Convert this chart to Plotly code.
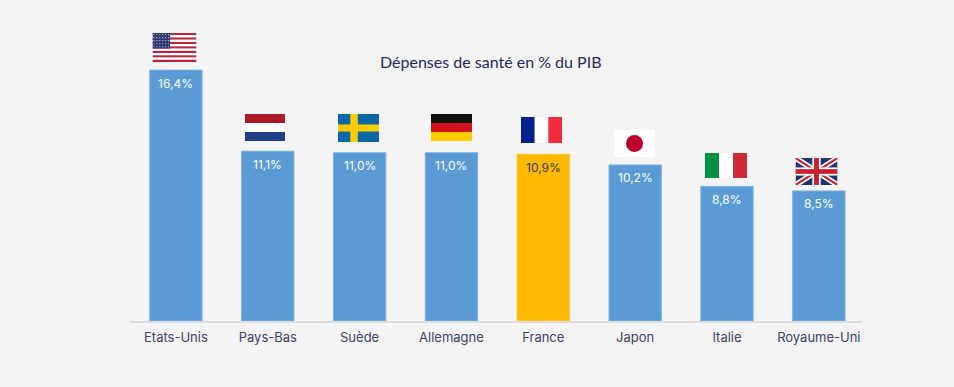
import base64
import plotly.graph_objects as go

countries = ["Etats-Unis", "Pays-Bas", "Suède", "Allemagne", "France", "Japon", "Italie", "Royaume-Uni"]
values = [16.4, 11.1, 11.0, 11.0, 10.9, 10.2, 8.8, 8.5]
labels = ["16,4%", "11,1%", "11,0%", "11,0%", "10,9%", "10,2%", "8,8%", "8,5%"]
colors = ["#5b9bd5", "#5b9bd5", "#5b9bd5", "#5b9bd5", "#ffb900", "#5b9bd5", "#5b9bd5", "#5b9bd5"]
edge_colors = ["#7fb2e3", "#7fb2e3", "#7fb2e3", "#7fb2e3", "#ffc533", "#7fb2e3", "#7fb2e3", "#7fb2e3"]
label_colors = ["#ffffff", "#ffffff", "#ffffff", "#ffffff", "#33395a", "#ffffff", "#ffffff", "#ffffff"]

W, H = 954, 387
L, R, T, B = 130, 862, 0, 321


def svg_uri(body, w, h):
    s = f'<svg xmlns="http://www.w3.org/2000/svg" width="{w}" height="{h}" viewBox="0 0 {w} {h}" preserveAspectRatio="none">{body}</svg>'
    return "data:image/svg+xml;base64," + base64.b64encode(s.encode()).decode()


def hbands(cols, w=60, h=40):
    n = len(cols)
    return "".join(f'<rect x="0" y="{i*h/n}" width="{w}" height="{h/n+0.2}" fill="{c}"/>' for i, c in enumerate(cols))


def vbands(cols, w=60, h=40):
    n = len(cols)
    return "".join(f'<rect x="{i*w/n}" y="0" width="{w/n+0.2}" height="{h}" fill="{c}"/>' for i, c in enumerate(cols))


def us():
    out = ""
    for i in range(13):
        c = "#b5263f" if i % 2 == 0 else "#ffffff"
        out += f'<rect x="0" y="{i*40/13}" width="60" height="{40/13+0.1}" fill="{c}"/>'
    out += '<rect x="0" y="0" width="24" height="21.5" fill="#2c3a70"/>'
    for r in range(5):
        for k in range(6):
            out += f'<circle cx="{2+k*4}" cy="{2.2+r*4.2}" r="0.8" fill="#d8dcea"/>'
    return out


sweden = ('<rect width="60" height="40" fill="#0a66a5"/>'
          '<rect x="18" y="0" width="11" height="40" fill="#fecc00"/>'
          '<rect x="0" y="15" width="60" height="10" fill="#fecc00"/>')
japan = '<rect width="60" height="40" fill="#ffffff"/><circle cx="30" cy="20" r="12.5" fill="#bc002d"/>'
uk = ('<rect width="60" height="40" fill="#22336e"/>'
      '<path d="M0 0L60 40M60 0L0 40" stroke="#ffffff" stroke-width="8"/>'
      '<path d="M0 0L60 40M60 0L0 40" stroke="#c8202f" stroke-width="3"/>'
      '<rect x="24" y="0" width="12" height="40" fill="#ffffff"/>'
      '<rect x="0" y="14" width="60" height="12" fill="#ffffff"/>'
      '<rect x="26.5" y="0" width="7" height="40" fill="#c8202f"/>'
      '<rect x="0" y="16.5" width="60" height="7" fill="#c8202f"/>')

flags = [
    (us(), 152.5, 33, 44, 29),
    (hbands(["#ab1a26", "#ffffff", "#1f4088"]), 245, 114, 40, 27),
    (sweden, 338, 114, 41, 28),
    (hbands(["#111111", "#d4121c", "#ffce00"]), 431, 114, 41, 27),
    (vbands(["#00218f", "#ffffff", "#f22c3c"]), 521, 117, 41, 26),
    (japan, 614, 130, 41, 27),
    (vbands(["#009246", "#ffffff", "#ce2b37"]), 705, 153, 42, 25),
    (uk, 795.5, 158, 42, 27),
]

images = []
for body, x, y, w, h in flags:
    images.append(dict(
        source=svg_uri(body, 60, 40), xref="paper", yref="paper",
        x=(x - L) / (R - L), y=(B - y) / (B - T), sizex=w / (R - L), sizey=h / (B - T),
        sizing="stretch", xanchor="left", yanchor="top", layer="above",
    ))

fig = go.Figure(go.Bar(
    x=countries, y=values, width=0.57,
    marker=dict(color=colors, line=dict(color=edge_colors, width=1)),
    hoverinfo="skip",
))
for c, v, t, col in zip(countries, values, labels, label_colors):
    fig.add_annotation(x=c, y=v, text=t, showarrow=False, yshift=-13,
                       font=dict(family="Inter, sans-serif", size=12, color=col))
fig.add_annotation(xref="paper", yref="paper", x=(490.5 - L) / (R - L), y=(B - 61) / (B - T),
                   xanchor="center", yanchor="middle", text="Dépenses de santé en % du PIB",
                   showarrow=False, font=dict(family="Lato, sans-serif", size=16, color="#232c57"))

fig.update_layout(
    width=W, height=H, autosize=False,
    margin=dict(l=L, r=W - R, t=T, b=H - B, pad=0),
    paper_bgcolor="#f4f4f4", plot_bgcolor="#f4f4f4",
    showlegend=False, images=images,
)
fig.update_xaxes(type="category", range=[-0.5, 7.47], showgrid=False, ticks="", linecolor="#dcdcdc", linewidth=1.5,
                 tickfont=dict(family="Inter, sans-serif", size=13, color="#3c4363"), tickangle=0,
                 ticklabelstandoff=4)
fig.update_yaxes(range=[0, 20.98], visible=False, showgrid=False, zeroline=False)
fig.write_html("out.html", config=dict(displayModeBar=False),
               post_script="document.body.style.margin='0';document.body.style.background='#f4f4f4';document.body.style.overflow='hidden';")
